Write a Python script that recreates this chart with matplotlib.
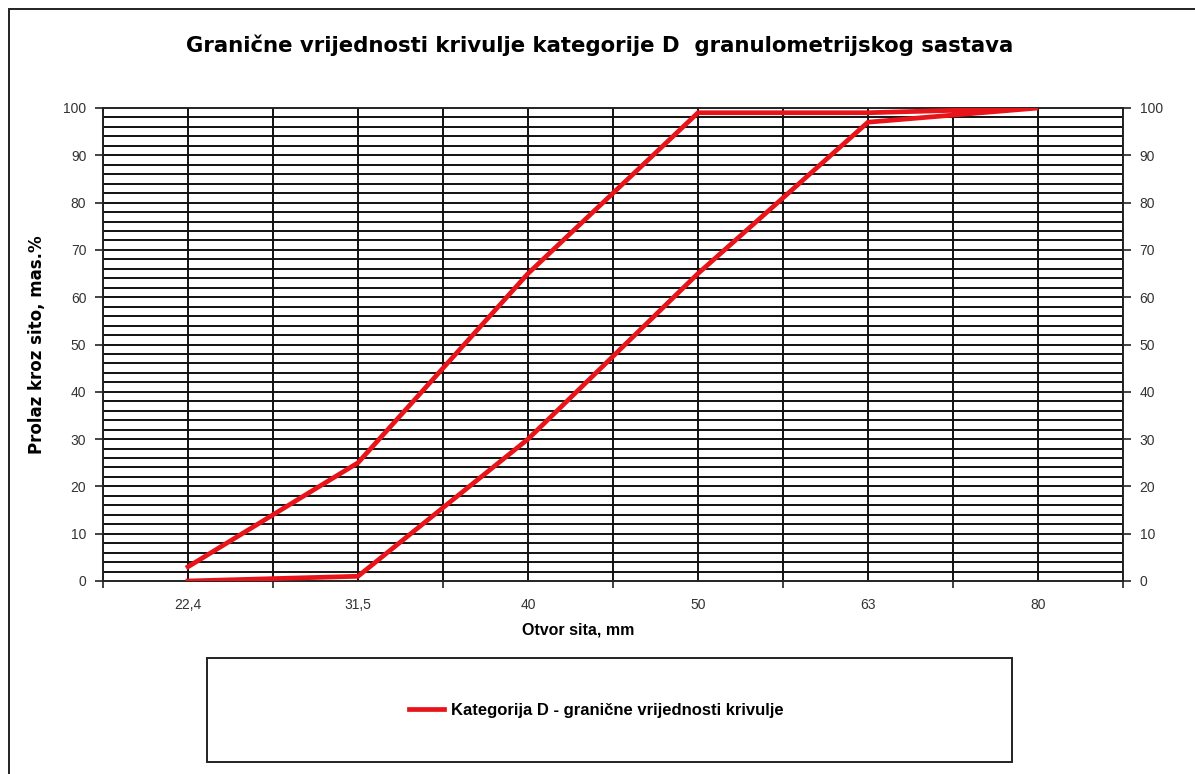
import matplotlib
matplotlib.use("Agg")
import matplotlib.pyplot as plt
from matplotlib.patches import Rectangle
from matplotlib.lines import Line2D
import numpy as np

plt.rcParams['font.family'] = ['Liberation Sans', 'DejaVu Sans']

categories = ["22,4", "31,5", "40", "50", "63", "80"]
upper = [3, 25, 65, 99, 99, 100]
lower = [0, 1, 30, 65, 97, 100]
series_label = "Kategorija D - granične vrijednosti krivulje"
title = "Granične vrijednosti krivulje kategorije D  granulometrijskog sastava"
xlabel = "Otvor sita, mm"
ylabel = "Prolaz kroz sito, mas.%"
yticks = list(range(0, 101, 10))

W, H = 1195, 774
fig = plt.figure(figsize=(W / 100, H / 100), dpi=100)
fig.patch.set_facecolor("white")

def fx(px):
    return px / W

def fy(py):
    return 1 - py / H

ax = fig.add_axes([fx(103), fy(581), fx(1123) - fx(103), fy(108) - fy(581)])

n = len(categories)
xpos = np.arange(n)
# closed boundary path: along upper limit, then back along lower limit
xs = list(xpos) + list(xpos[::-1])
ys = upper + lower[::-1]

ax.set_xlim(-0.5, n - 0.5)
ax.set_ylim(0, 100)

# grid: horizontal every 2, vertical at category centres and boundaries
for v in range(2, 100, 2):
    ax.axhline(v, color="#111111", lw=1.4, zorder=1)
for b in np.arange(-0.5, n, 0.5):
    ax.axvline(b, color="#111111", lw=1.4, zorder=1)

ax.plot(xs, ys, color="#E8141A", lw=3.4, solid_joinstyle="miter", zorder=3,
        label=series_label)

for s in ax.spines.values():
    s.set_color("#222222")
    s.set_linewidth(1.4)

ax.set_xticks(np.arange(-0.5, n, 1.0))
ax.set_xticklabels([])
ax.set_xticks(xpos, minor=True)
ax.set_xticklabels(categories, minor=True)
ax.tick_params(axis="x", which="major", direction="out", length=5, width=1.2, color="#222222")
ax.tick_params(axis="x", which="minor", length=0, pad=12, labelsize=10, labelcolor="#333333")

ax.set_yticks(yticks)
ax.tick_params(axis="y", direction="out", length=6, width=1.2, color="#222222",
               labelsize=10, labelcolor="#333333", pad=6,
               left=True, right=True, labelleft=True, labelright=True)

fig.text(fx(578), fy(630), xlabel, ha="center", va="center", fontsize=11.5, fontweight="bold")
fig.text(fx(37), fy(345), ylabel, ha="center", va="center", rotation=90,
         fontsize=12, fontweight="bold", family=["DejaVu Sans"])

fig.text(fx(600), fy(45), title, ha="center", va="center", fontsize=15.3,
         fontweight="bold", family=["DejaVu Sans"])

# outer chart frame (extends beyond the visible picture at right and bottom)
fig.patches.append(Rectangle((fx(9), fy(800)), fx(1220) - fx(9), fy(9) - fy(800),
                             transform=fig.transFigure, fill=False,
                             edgecolor="#222222", lw=1.4))

# legend box
fig.patches.append(Rectangle((fx(207), fy(762)), fx(1012) - fx(207), fy(658) - fy(762),
                             transform=fig.transFigure, fill=False,
                             edgecolor="#222222", lw=1.4))
handle = Line2D([], [], color="#E8141A", lw=3.4)
fig.legend([handle], [series_label], loc="center", bbox_to_anchor=(fx(596), fy(710)),
           frameon=False, handlelength=2.1, handletextpad=0.4,
           prop={"size": 12, "weight": "bold"})

fig.savefig("out.png", dpi=100)
